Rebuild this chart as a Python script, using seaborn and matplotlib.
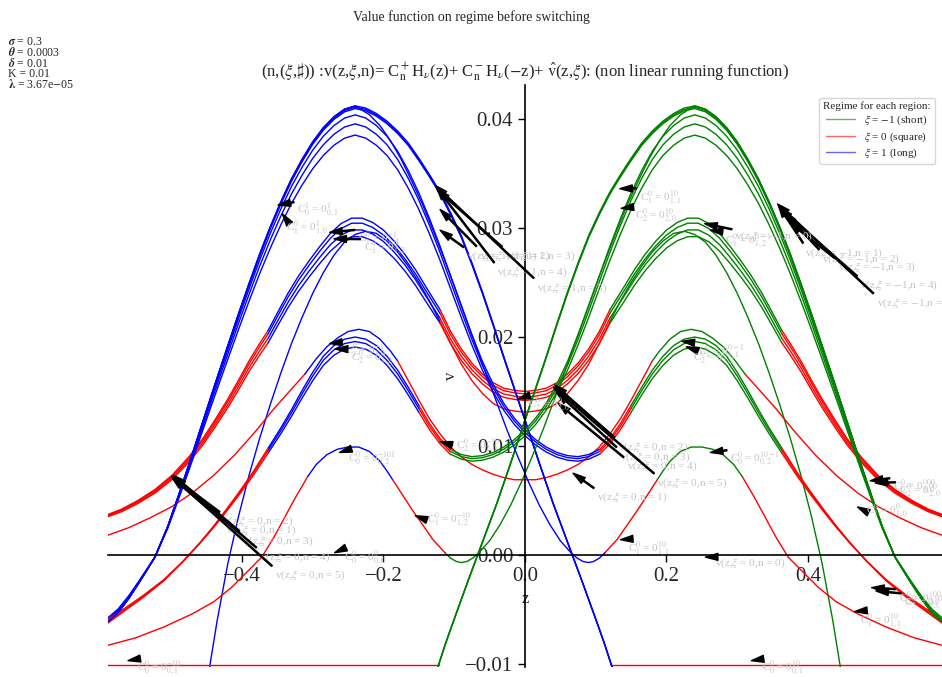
import matplotlib
matplotlib.use("Agg")
import matplotlib.pyplot as plt
import seaborn as sns
from matplotlib.lines import Line2D

sns.set_style("white")
plt.rcParams['font.family'] = ['Liberation Serif', 'DejaVu Sans']
plt.rcParams['mathtext.fontset'] = 'stix'

# ---------------- data (xi = 1 side) ----------------
# top hump, outer flank (shared by the steep curves)
A_left_z = [-0.59, -0.575, -0.56, -0.545, -0.523, -0.505, -0.49, -0.475, -0.46, -0.44, -0.42, -0.405,
            -0.39, -0.375, -0.36, -0.345, -0.33, -0.315, -0.30, -0.285, -0.27, -0.255, -0.24]
A_left_v = [-0.0062, -0.0053, -0.0040, -0.0025, -0.0002, 0.0026, 0.0054, 0.0083, 0.0113, 0.0153, 0.0192, 0.0221,
            0.0249, 0.0276, 0.0301, 0.0324, 0.0345, 0.0363, 0.0379, 0.0392, 0.0402, 0.0409, 0.0412]
# top hump, inner flank falling to the floor
A_right_z = [-0.24, -0.225, -0.21, -0.195, -0.18, -0.165, -0.15, -0.135, -0.12, -0.105, -0.09, -0.075,
             -0.06, -0.045, -0.03, -0.015, 0.0, 0.02, 0.04, 0.06, 0.08, 0.10, 0.112, 0.122]
A_right_v = [0.0412, 0.0410, 0.0405, 0.0398, 0.0389, 0.0378, 0.0364, 0.0349, 0.0333, 0.0314, 0.0293, 0.0268,
             0.0241, 0.0212, 0.0182, 0.0153, 0.0124, 0.0085, 0.0047, 0.0012, -0.0023, -0.0059, -0.0081, -0.0101]
A_floor_z = [0.122, 0.59]
A_floor_v = [-0.0101, -0.0101]
A_drop_z = [0.122, 0.14]
A_drop_v = [-0.0101, -0.0135]
A_scale = [1.0, 0.997, 0.994]

# thinner top-hump curves: fall into a U, then the 0.02 hump
T_right_z = [-0.24, -0.225, -0.21, -0.195, -0.18, -0.165, -0.15, -0.135, -0.12, -0.105, -0.09, -0.075,
             -0.06, -0.045, -0.03, -0.015, 0.0, 0.015, 0.03, 0.045, 0.06, 0.075, 0.09, 0.106]
T_right_v = [0.0412, 0.0409, 0.0402, 0.0392, 0.0378, 0.0360, 0.0339, 0.0315, 0.0289, 0.0261, 0.0233, 0.0206,
             0.0181, 0.0160, 0.0142, 0.0128, 0.0117, 0.0108, 0.0101, 0.0096, 0.0093, 0.0092, 0.0094, 0.0099]
T_red1_z = [0.106, 0.12, 0.135, 0.15]
T_red1_v = [0.0099, 0.0109, 0.0123, 0.0140]
T_hump_z = [0.15, 0.165, 0.18, 0.195, 0.21, 0.225, 0.24, 0.255, 0.27, 0.285, 0.30, 0.315, 0.33, 0.345, 0.363]
T_hump_v = [0.0140, 0.0157, 0.0173, 0.0186, 0.0196, 0.0202, 0.0204, 0.0202, 0.0196, 0.0186, 0.0171, 0.0154,
            0.0136, 0.0119, 0.0100]
T_red2_z = [0.363, 0.385, 0.406, 0.425, 0.44, 0.46, 0.483, 0.51, 0.54, 0.565, 0.59]
T_red2_v = [0.0100, 0.0077, 0.0057, 0.0040, 0.0027, 0.0011, -0.0006, -0.0024, -0.0040, -0.0052, -0.0064]
T_scale = [0.98, 0.96, 0.935]

# 0.031 hump with the square dip in the middle (symmetric, left half)
B_red_z = [-0.59, -0.57, -0.547, -0.523, -0.499, -0.475, -0.455, -0.438, -0.42, -0.406, -0.39, -0.375, -0.363]
B_red_v = [0.0037, 0.0042, 0.0050, 0.0060, 0.0073, 0.0090, 0.0107, 0.0124, 0.0143, 0.0159, 0.0178, 0.0194, 0.0206]
B_hump_z = [-0.363, -0.35, -0.335, -0.32, -0.305, -0.29, -0.275, -0.26, -0.245, -0.23, -0.215, -0.20,
            -0.185, -0.17, -0.155, -0.14, -0.12]
B_hump_v = [0.0206, 0.0222, 0.0240, 0.0256, 0.0270, 0.0283, 0.0295, 0.0304, 0.0309, 0.0309, 0.0305, 0.0298,
            0.0288, 0.0276, 0.0262, 0.0246, 0.0225]
B_dip_z = [-0.12, -0.105, -0.09, -0.075, -0.06, -0.045, -0.03, -0.015, 0.0]
B_dip_v = [0.0225, 0.0205, 0.0189, 0.0176, 0.0166, 0.0158, 0.0153, 0.0151, 0.0150]
B_scale = [1.0, 0.985, 0.965, 0.945]

# steep curve joining the 0.031 hump (symmetric, left half)
E_hump_z = [-0.45, -0.435, -0.42, -0.405, -0.39, -0.375, -0.36, -0.345, -0.33, -0.315, -0.30, -0.285,
            -0.27, -0.255, -0.24, -0.225, -0.21, -0.195, -0.18, -0.165, -0.15, -0.135, -0.12]
E_hump_v = [-0.0120, -0.0060, -0.0008, 0.0035, 0.0073, 0.0107, 0.0138, 0.0167, 0.0194, 0.0218, 0.0240, 0.0259,
            0.0275, 0.0287, 0.0294, 0.0297, 0.0295, 0.0288, 0.0278, 0.0265, 0.0250, 0.0233, 0.0214]
E_dip_v = [0.0214, 0.0194, 0.0175, 0.0160, 0.0148, 0.0139, 0.0134, 0.0132, 0.0131]

# 0.02 hump with the low square dip (symmetric, left half)
C_red_z = [-0.59, -0.56, -0.53, -0.50, -0.47, -0.44, -0.41, -0.38, -0.355, -0.333, -0.311]
C_red_v = [0.0018, 0.0025, 0.0034, 0.0044, 0.0057, 0.0073, 0.0092, 0.0114, 0.0134, 0.0150, 0.0166]
C_hump_z = [-0.311, -0.295, -0.28, -0.265, -0.25, -0.235, -0.22, -0.205, -0.19, -0.18]
C_hump_v = [0.0166, 0.0180, 0.0191, 0.0199, 0.0205, 0.0207, 0.0205, 0.0198, 0.0187, 0.0178]
C_dip_z = [-0.18, -0.165, -0.15, -0.135, -0.12, -0.105, -0.09, -0.075, -0.06, -0.045, -0.03, -0.015, 0.0]
C_dip_v = [0.0178, 0.0160, 0.0142, 0.0125, 0.0111, 0.0099, 0.0090, 0.0083, 0.0078, 0.0074, 0.0071, 0.0069, 0.0069]

# 0.01 hump, small U, then up to the opposite top hump
D_red1_z = [-0.59, -0.55, -0.51, -0.47, -0.44, -0.415, -0.395, -0.372, -0.355, -0.34, -0.325, -0.307]
D_red1_v = [-0.0083, -0.0076, -0.0066, -0.0054, -0.0043, -0.0030, -0.0017, -0.0002, 0.0016, 0.0034, 0.0052, 0.0072]
D_hump_z = [-0.307, -0.295, -0.28, -0.265, -0.25, -0.235, -0.22, -0.205, -0.195, -0.187]
D_hump_v = [0.0072, 0.0083, 0.0092, 0.0097, 0.0099, 0.0099, 0.0095, 0.0086, 0.0077, 0.0069]
D_red2_z = [-0.187, -0.175, -0.16, -0.145, -0.13, -0.113]
D_red2_v = [0.0069, 0.0057, 0.0042, 0.0028, 0.0014, 0.0002]
D_rise_z = [-0.113, -0.105, -0.097, -0.09, -0.082, -0.074, -0.065, -0.05, -0.035, -0.02, -0.005, 0.01,
            0.025, 0.04, 0.055, 0.07, 0.085, 0.10, 0.115, 0.13, 0.145, 0.16, 0.175, 0.19, 0.205, 0.22, 0.24]
D_rise_v = [0.0002, -0.0003, -0.0006, -0.0007, -0.0006, -0.0003, 0.0002, 0.0013, 0.0028, 0.0046, 0.0067, 0.0090,
            0.0114, 0.0140, 0.0166, 0.0193, 0.0220, 0.0247, 0.0273, 0.0298, 0.0322, 0.0343, 0.0363, 0.0380,
            0.0394, 0.0404, 0.0412]

# parameters and labels
param_names = [r"$\boldsymbol{\sigma}$", r"$\boldsymbol{\theta}$", r"$\boldsymbol{\delta}$", "K", r"$\boldsymbol{\lambda}$"]
param_values = ["0.3", "0.0003", "0.01", "0.01", r"3.67e$-$05"]
regime_labels = [r"$\xi$ = $-$1 (short)", r"$\xi$ = 0 (square)", r"$\xi$ = 1 (long)"]
regime_colors = ["green", "red", "blue"]
x_ticks = [-0.4, -0.2, 0.0, 0.2, 0.4]
y_ticks = [-0.01, 0.0, 0.01, 0.02, 0.03, 0.04]

# annotations: label, arrow point (z, v), text point (z, v)
ann_labels = [
    r"v(z,$\xi$ = 1,n = 1)", r"v(z,$\xi$ = 1,n = 2)", r"v(z,$\xi$ = 1,n = 3)",
    r"v(z,$\xi$ = 1,n = 4)", r"v(z,$\xi$ = 1,n = 5)",
    r"v(z,$\xi$ = $-$1,n = 1)", r"v(z,$\xi$ = $-$1,n = 2)", r"v(z,$\xi$ = $-$1,n = 3)",
    r"v(z,$\xi$ = $-$1,n = 4)", r"v(z,$\xi$ = $-$1,n = 5)",
    r"v(z,$\xi$ = 0,n = 2)", r"v(z,$\xi$ = 0,n = 1)", r"v(z,$\xi$ = 0,n = 3)",
    r"v(z,$\xi$ = 0,n = 4)", r"v(z,$\xi$ = 0,n = 5)",
    r"v(z,$\xi$ = 0,n = 2)", r"v(z,$\xi$ = 0,n = 3)", r"v(z,$\xi$ = 0,n = 4)",
    r"v(z,$\xi$ = 0,n = 5)", r"v(z,$\xi$ = 0,n = 1)", r"v(z,$\xi$ = 0,n = 0)",
    r"C$^0_0$ = 0$^0_{0,0}$", r"C$^0_0$ = 0$^{-10}_{0,1}$", r"C$^0_0$ = 0$^{10}_{0,1}$",
    r"C$^0_1$ = 0$^{10}_{1,1}$", r"C$^0_1$ = 0$^{10}_{1,1}$", r"C$^0_1$ = 0$^{0}_{1,0}$",
    r"C$^0_1$ = 0$^{-10}_{1,2}$", r"C$^0_0$ = 0$^{-101}_{0,2}$", r"C$^0_0$ = 0$^{10-1}_{0,2}$",
    r"C$^1_0$ = 0$^{1}_{0,1}$", r"C$^0_1$ = 0$^{1}_{1,0}$",
    r"C$^0_1$ = 0$^{-1}_{1,2}$", r"C$^0_1$ = 0$^{0}_{1,2}$",
    r"C$^0_1$ = 0$^{-1}_{1,1}$", r"C$^0_2$ = 0$^{0}_{1,2}$",
    r"C$^0_1$ = 0$^{10}_{1,1}$", r"C$^0_2$ = 0$^{10}_{2,0}$",
    r"v(z,$\xi$ = $-$1,n = 0)", r"C$^0_1$ = 0$^{0-1}_{1,2}$",
    r"C$^0_1$ = 0$^{0-1}_{1,1}$", r"C$^0_2$ = 0$^{0}_{1,2}$",
    r"C$^0_0$ = 0$^{000}_{3,0}$", r"C$^0_2$ = 0$^{00}_{2,0}$",
    r"C$^0_2$ = 0$^{100}_{2,1}$", r"C$^0_3$ = 0$^{10}_{3,1}$",
    r"C$^0_2$ = 0$^{-10}_{2,0}$", r"C$^0_2$ = 0$^{0}_{2,0}$",
]
ann_xy = [
    (-0.12, 0.0298), (-0.12, 0.0317), (-0.124, 0.0335), (-0.125, 0.0337), (-0.127, 0.0339),
    (0.358, 0.0321), (0.367, 0.0314), (0.374, 0.0305), (0.360, 0.0318), (0.357, 0.0322),
    (-0.499, 0.0072), (-0.499, 0.0071), (-0.497, 0.0073), (-0.497, 0.0072), (-0.499, 0.0072),
    (0.042, 0.0156), (0.045, 0.0149), (0.047, 0.0139), (0.040, 0.0154), (0.068, 0.0075),
    (0.255, -0.0002),
    (-0.269, 0.0002), (-0.561, -0.0097), (0.320, -0.0097),
    (0.135, 0.0014), (0.466, -0.0052), (0.470, 0.0044),
    (-0.155, 0.0036), (-0.262, 0.0094), (0.262, 0.0094),
    (-0.349, 0.0321), (-0.343, 0.0313),
    (-0.276, 0.0296), (-0.270, 0.0290),
    (-0.276, 0.0194), (-0.268, 0.0189),
    (0.134, 0.0336), (0.136, 0.0318),
    (0.254, 0.0304), (0.262, 0.0298),
    (0.222, 0.0196), (0.228, 0.0191),
    (0.488, 0.0068), (0.495, 0.0066),
    (0.490, -0.0030), (0.496, -0.0033),
    (-0.120, 0.0104), (-0.010, 0.0143),
]
ann_text = [
    (-0.082, 0.0274), (-0.064, 0.0274), (-0.028, 0.0274), (-0.040, 0.0259), (0.017, 0.0245),
    (0.396, 0.0277), (0.420, 0.0271), (0.442, 0.0264), (0.474, 0.0247), (0.497, 0.0231),
    (-0.427, 0.0031), (-0.423, 0.0023), (-0.399, 0.0013), (-0.375, -0.0002), (-0.353, -0.0019),
    (0.131, 0.0099), (0.134, 0.0090), (0.144, 0.0081), (0.187, 0.0066), (0.102, 0.0053),
    (0.269, -0.0008),
    (-0.256, -0.0003), (-0.548, -0.0104), (0.335, -0.0104),
    (0.145, 0.0006), (0.473, -0.0060), (0.482, 0.0040),
    (-0.138, 0.0032), (-0.250, 0.0088), (0.290, 0.0088),
    (-0.322, 0.0316), (-0.338, 0.0300),
    (-0.236, 0.0290), (-0.228, 0.0281),
    (-0.254, 0.0187), (-0.246, 0.0180),
    (0.162, 0.0328), (0.156, 0.0311),
    (0.297, 0.0292), (0.282, 0.0288),
    (0.244, 0.0186), (0.238, 0.0180),
    (0.520, 0.0062), (0.528, 0.0058),
    (0.528, -0.0040), (0.536, -0.0044),
    (-0.098, 0.0100), (0.004, 0.0137),
]

COLOR = {"long": "blue", "square": "red", "short": "green"}
MIRROR = {"long": "short", "short": "long", "square": "square"}


def scaled(vs, k):
    return [k * v for v in vs]


def mirror(segments):
    return [(MIRROR[c], [-z for z in zs], vs) for c, zs, vs in segments]


# assemble curves (each curve = list of coloured segments)
steep = []
for i, k in enumerate(A_scale):
    segs = [("long", A_left_z + A_right_z[1:], scaled(A_left_v + A_right_v[1:], k))]
    if i == 0:
        segs.append(("square", A_floor_z, A_floor_v))
    else:
        segs.append(("long", A_drop_z, scaled(A_drop_v, k)))
    steep.append(segs)
for k in T_scale:
    steep.append([
        ("long", A_left_z + T_right_z[1:], scaled(A_left_v + T_right_v[1:], k)),
        ("square", T_red1_z, scaled(T_red1_v, k)),
        ("short", T_hump_z, scaled(T_hump_v, k)),
        ("square", T_red2_z, scaled(T_red2_v, k)),
    ])
steep.append([
    ("square", D_red1_z, D_red1_v),
    ("long", D_hump_z, D_hump_v),
    ("square", D_red2_z, D_red2_v),
    ("short", D_rise_z + [-z for z in A_left_z[::-1]][1:], D_rise_v + A_left_v[::-1][1:]),
])

symmetric = []
for k in B_scale:
    half = [("square", B_red_z, scaled(B_red_v, k)),
            ("long", B_hump_z, scaled(B_hump_v, k)),
            ("square", B_dip_z, scaled(B_dip_v, k))]
    symmetric.append(half + mirror(half))
half = [("long", E_hump_z, E_hump_v), ("square", B_dip_z, E_dip_v)]
symmetric.append(half + mirror(half))
half = [("square", C_red_z, C_red_v), ("long", C_hump_z, C_hump_v), ("square", C_dip_z, C_dip_v)]
symmetric.append(half + mirror(half))

# xi = -1 curves are the mirror images of the xi = 1 ones
all_curves = symmetric + steep + [mirror(s) for s in steep]

fig = plt.figure(figsize=(9.42, 6.77), dpi=100)
ax = fig.add_axes([0.1146, 0.0148, 0.8854, 0.8597])

for segs in all_curves:
    for c, zs, vs in segs:
        sns.lineplot(x=zs, y=vs, ax=ax, color=COLOR[c], lw=1.0, sort=False,
                     estimator=None, legend=False)

ax.set_xlim(-0.5894, 0.5894)
ax.set_ylim(-0.01028, 0.04312)
for s in ["top", "right"]:
    ax.spines[s].set_visible(False)
ax.spines["left"].set_position(("data", 0))
ax.spines["bottom"].set_position(("data", 0))
for s in ["left", "bottom"]:
    ax.spines[s].set_color("black")
    ax.spines[s].set_linewidth(1.2)
ax.set_xticks(x_ticks)
ax.set_yticks(y_ticks)
ax.set_xticklabels([f"{t:.1f}".replace("-", "\u2212") for t in x_ticks])
ax.set_yticklabels([f"{t:.2f}".replace("-", "\u2212") for t in y_ticks])
ax.tick_params(axis="both", labelsize=15, direction="out", length=5, width=1,
               color="black", left=True, bottom=True)
ax.set_xlabel("z", fontsize=12)
ax.set_ylabel("v", fontsize=12)

for lab, xy, xt in zip(ann_labels, ann_xy, ann_text):
    ax.annotate(lab, xy=xy, xytext=xt, fontsize=8, color="#c4c4c4",
                ha="left", va="center",
                arrowprops=dict(facecolor="black", edgecolor="black", width=0.8,
                                headwidth=5, headlength=9, shrink=0.0))

ax.set_title(r"(n,($\xi$,$\sharp$)) :v(z,$\xi$,n)= C$_{\rm n}^+$H$_\nu$(z)+ C$_{\rm n}^-$H$_\nu$($-$z)+ $\hat{\rm v}$(z,$\xi$): (non linear running function)",
             fontsize=12, pad=6)
fig.suptitle("Value function on regime before switching", fontsize=10, y=0.985)

for i, (n, v) in enumerate(zip(param_names, param_values)):
    fig.text(0.008, 0.938 - i * 0.0158, f"{n} = {v}", fontsize=8.5, va="center")

handles = [Line2D([0], [0], color=c, lw=1.0, alpha=0.6) for c in regime_colors]
ax.legend(handles, regime_labels, title="Regime for each region:", loc="upper right",
          fontsize=8, title_fontsize=8, frameon=True, bbox_to_anchor=(0.998, 0.988),
          labelspacing=0.25, borderpad=0.35, handlelength=2.6, handletextpad=0.8)

fig.savefig("out.png", dpi=100)
